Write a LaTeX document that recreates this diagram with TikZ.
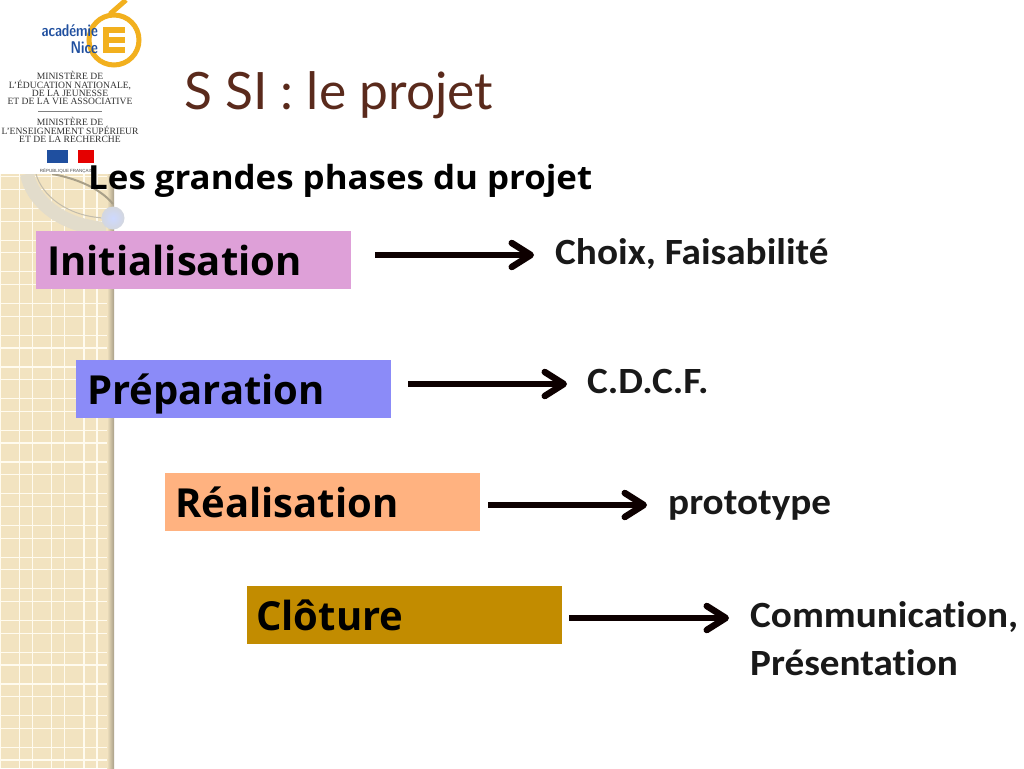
\documentclass[tikz,border=0pt]{standalone}
\usepackage{fontspec}
\setmainfont{Liberation Sans}
\newfontfamily\boxfont{Open Sans}
\newfontfamily\headfont[FakeStretch=1.05]{Open Sans}
\newfontfamily\sidefont[FakeStretch=1.06,Ligatures=NoCommon]{Carlito}
\newfontfamily\titlefont{Lato}
\newfontfamily\logoserif{Liberation Serif}
\usetikzlibrary{arrows.meta}
\definecolor{tile}{HTML}{F2E3C0}
\definecolor{tileline}{HTML}{FFFBEF}
\definecolor{shadowc}{HTML}{A89F88}
\definecolor{titlec}{HTML}{5A2A1C}
\definecolor{arcc}{HTML}{E2DCCB}
\definecolor{logoblue}{HTML}{1F4F9F}
\definecolor{logoorange}{HTML}{F2B01E}
\tikzset{
 phasebox/.style={anchor=north west,inner sep=0pt,minimum height=58pt,minimum width=315pt},
 phaselabel/.style={anchor=base west,inner sep=0pt,font=\boxfont\bfseries\fontsize{40}{40}\selectfont,text=black},
 sidelabel/.style={anchor=base west,inner sep=0pt,font=\sidefont\bfseries\fontsize{37}{37}\selectfont,text=black!90},
 phasearrow/.style={line width=6.5pt,black!95!red,-{Straight Barb[length=19pt,width=24pt,line width=6.5pt,round]}},
 logoblock/.style={inner sep=0pt,align=center,font=\logoserif\fontsize{9.6}{7.9}\selectfont,text=black!80},
 logoword/.style={inner sep=0pt,anchor=base east,xscale=0.78,font=\sffamily\bfseries\fontsize{17}{17}\selectfont,text=logoblue},
}
\begin{document}
\begin{tikzpicture}[x=1pt,y=-1pt]
\useasboundingbox (0,0) rectangle (1024,768);
\fill[white] (0,0) rectangle (1024,768);
% tiled side band
\fill[tile] (0,174) rectangle (113,768);
\foreach \i in {0,...,3} {
  \draw[tileline,line width=1.2pt] ({-13+32.3*\i},174) -- ({-13+32.3*\i},768);
  \draw[tileline,line width=1.2pt] ({\i*32.3},174) -- ({\i*32.3},768);
}
\foreach \j in {0,...,19} {
  \draw[tileline,line width=1.2pt] (0,{760-31.7*\j}) -- (113,{760-31.7*\j});
  \draw[tileline,line width=1.2pt] (0,{747.3-31.7*\j}) -- (113,{747.3-31.7*\j});
}
\fill[left color=tile,right color=shadowc] (107,174) rectangle (114,768);
% ornament
\draw[arcc,line width=14pt] (27,174) .. controls (32,200) and (60,226) .. (106,229);
\draw[shadowc!70,line width=1pt] (36,174) .. controls (42,195) and (66,216) .. (104,218);
\draw[shadowc,line width=2pt] (52,174) .. controls (75,178) and (100,188) .. (113,204);
\shade[inner color=white!70!cyan!50!blue!30,outer color=cyan!30!blue!15!gray!30] (113,218) circle (11.5);
\fill[white] (0,0) rectangle (143,174);
% logo
\draw[logoorange,line width=5pt] (114,40) circle (25);
\draw[logoorange,line width=5pt] (110,14) -- (126,0);
\fill[logoorange] (103,27) rectangle (125,53);
\fill[white] (109,33) rectangle (125,37);
\fill[white] (109,43) rectangle (125,47);
\node[logoword] (logoA) at (98,37) {académie};
\node[logoword] (logoN) at (98,54) {Nice};
\node[logoblock] (m1) at (70,88) {MINISTÈRE DE\\L’ÉDUCATION NATIONALE,\\DE LA JEUNESSE\\ET DE LA VIE ASSOCIATIVE};
\draw[gray,line width=0.7pt] (38,111) -- (102,111);
\node[logoblock] (m2) at (70,130) {MINISTÈRE DE\\L’ENSEIGNEMENT SUPÉRIEUR\\ET DE LA RECHERCHE};
\fill[logoblue] (47,150) rectangle (68,163);
\fill[white] (68,150) rectangle (78,163);
\fill[red!90!black] (78,150) rectangle (94,163);
\node[inner sep=0pt,anchor=base,font=\fontsize{4.5}{4.5}\selectfont,text=black!70] (rf) at (68,172) {RÉPUBLIQUE FRANÇAISE};
% title
\node[anchor=base west,inner sep=0pt,font=\titlefont\fontsize{51.5}{51.5}\selectfont,text=titlec] (title) at (184,109) {S SI : le projet};
% heading
\node[anchor=base west,inner sep=0pt,font=\headfont\bfseries\fontsize{33.2}{33.2}\selectfont,text=black] (heading) at (88,189) {Les grandes phases du projet};
% boxes
\node[phasebox,fill={rgb,255:red,222;green,160;blue,216}] (b1) at (36,231) {};
\node[phasebox,fill={rgb,255:red,139;green,139;blue,248}] (b2) at (76,360) {};
\node[phasebox,fill={rgb,255:red,255;green,178;blue,128}] (b3) at (165,473) {};
\node[phasebox,fill={rgb,255:red,194;green,140;blue,0}] (b4) at (247,586) {};
\node[phaselabel] (l1) at (47,275) {Initialisation};
\node[phaselabel] (l2) at (87,404) {Préparation};
\node[phaselabel] (l3) at (175,517) {Réalisation};
\node[phaselabel] (l4) at (256,630) {Clôture};
% side labels
\node[sidelabel] (s1) at (555,264) {Choix, Faisabilité};
\node[sidelabel] (s2) at (587,393) {C.D.C.F.};
\node[sidelabel] (s3) at (668,514) {prototype};
\node[sidelabel] (s4) at (750,627) {Communication,};
\node[sidelabel] (s5) at (750,675) {Présentation};
% arrows
\coordinate (a1s) at (375,255); \coordinate (a1e) at (534,255);
\coordinate (a2s) at (408,384); \coordinate (a2e) at (567,384);
\coordinate (a3s) at (488,505); \coordinate (a3e) at (647,505);
\coordinate (a4s) at (569,618); \coordinate (a4e) at (729,618);
\draw[phasearrow] (a1s) -- (a1e);
\draw[phasearrow] (a2s) -- (a2e);
\draw[phasearrow] (a3s) -- (a3e);
\draw[phasearrow] (a4s) -- (a4e);
\end{tikzpicture}
\end{document}
